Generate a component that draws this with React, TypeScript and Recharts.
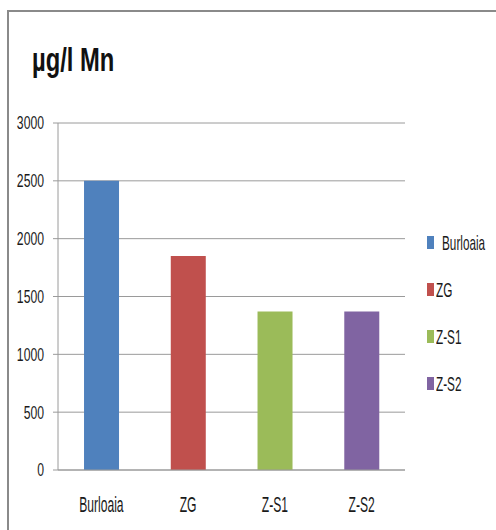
import React from 'react';
import { BarChart, Bar, Cell, XAxis, YAxis, CartesianGrid } from 'recharts';

const sites = ['Burloaia', 'ZG', 'Z-S1', 'Z-S2'];
const mnValues = [2500, 1850, 1370, 1370];
const siteColors = ['#4F81BD', '#C0504D', '#9BBB59', '#8064A2'];
const yTicks = [0, 500, 1000, 1500, 2000, 2500, 3000];
const edgeTicks = [0, 1, 2, 3, 4];

const data = sites.map((name, i) => ({ name, value: mnValues[i] }));

// condensed look of the source: Liberation Sans squeezed horizontally
const FONT = '"Liberation Sans", Arial, sans-serif';
const GRID = '#9a9a9a';
const INK = '#1a1a1a';

const YTick = ({ x, y, payload }: any) => (
  <text
    transform={`translate(${x},${y}) scale(0.66,1)`}
    textAnchor="end"
    dominantBaseline="central"
    fontFamily={FONT}
    fontSize={18.5}
    fill={INK}
  >
    {payload.value}
  </text>
);

const XTick = ({ x, y, payload }: any) => (
  <text
    transform={`translate(${x},${y + 42}) scale(0.55,1)`}
    textAnchor="middle"
    fontFamily={FONT}
    fontSize={22}
    fill={INK}
  >
    {payload.value}
  </text>
);

export default function App() {
  return (
    <div style={{ position: 'absolute', left: 0, top: 0, width: 496, height: 530, background: '#fff', overflow: 'hidden', fontFamily: FONT }}>
      {/* frame, cut off on the right and bottom like the source */}
      <div style={{ position: 'absolute', left: 7, top: 10, width: 600, height: 600, borderLeft: '2px solid #8a8a8a', borderTop: '2px solid #8a8a8a' }} />
      <div
        style={{
          position: 'absolute', left: 32, top: 40, fontSize: 33, fontWeight: 700, color: '#111',
          lineHeight: '40px', whiteSpace: 'nowrap', transform: 'scaleX(0.72)', transformOrigin: 'left center',
        }}
      >
        µg/l Mn
      </div>

      <div style={{ position: 'absolute', left: 0, top: 0 }}>
        <BarChart width={496} height={530} data={data} margin={{ top: 123, right: 91, bottom: 0, left: 0 }} barCategoryGap="30%">
          <CartesianGrid vertical={false} stroke={GRID} strokeWidth={1} />
          <XAxis
            xAxisId="edges"
            type="number"
            domain={[0, 4]}
            ticks={edgeTicks}
            height={0}
            tickSize={8}
            tickFormatter={() => ''}
            axisLine={false}
            tickLine={{ stroke: GRID }}
          />
          <XAxis
            dataKey="name"
            height={60}
            tickLine={false}
            tickSize={0}
            tickMargin={0}
            axisLine={{ stroke: GRID }}
            tick={<XTick />}
            interval={0}
          />
          <YAxis
            width={58}
            domain={[0, 3000]}
            ticks={yTicks}
            tickSize={5}
            tickMargin={9}
            axisLine={{ stroke: GRID }}
            tickLine={{ stroke: GRID }}
            tick={<YTick />}
          />
          <Bar dataKey="value" isAnimationActive={false}>
            {data.map((d, i) => (
              <Cell key={d.name} fill={siteColors[i]} />
            ))}
          </Bar>
        </BarChart>
      </div>

      <div style={{ position: 'absolute', left: 427, top: 219 }}>
        {sites.map((s, i) => (
          <div key={s} style={{ display: 'flex', alignItems: 'center', height: 47, fontSize: 21, color: INK, whiteSpace: 'nowrap' }}>
            <span style={{ display: 'inline-block', width: 7, height: 13, background: siteColors[i], marginRight: i === 0 ? 8 : 2, flex: 'none' }} />
            <span style={{ display: 'inline-block', transform: 'scaleX(0.56)', transformOrigin: 'left center' }}>{s}</span>
          </div>
        ))}
      </div>
    </div>
  );
}
